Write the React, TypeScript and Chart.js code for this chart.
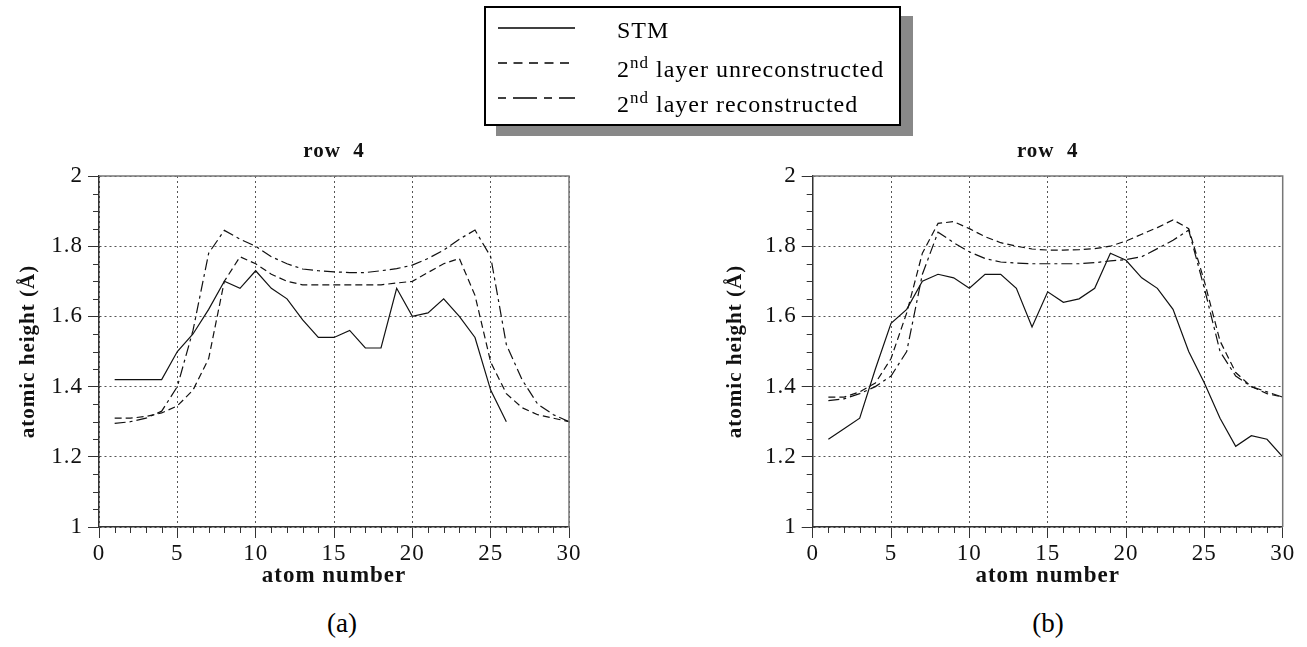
import React, { useEffect, useRef } from "react";
import { Chart, registerables } from "chart.js";

Chart.register(...registerables);

// ---------- data ----------
const atomNumbers = [1, 2, 3, 4, 5, 6, 7, 8, 9, 10, 11, 12, 13, 14, 15, 16, 17, 18, 19, 20, 21, 22, 23, 24, 25, 26, 27, 28, 29, 30];

// panel (a)
const stmA = [1.42, 1.42, 1.42, 1.42, 1.50, 1.55, 1.62, 1.70, 1.68, 1.73, 1.68, 1.65, 1.59, 1.54, 1.54, 1.56, 1.51, 1.51, 1.68, 1.60, 1.61, 1.65, 1.60, 1.54, 1.39, 1.30];
const unrecA = [1.31, 1.31, 1.315, 1.325, 1.345, 1.39, 1.48, 1.70, 1.77, 1.75, 1.72, 1.70, 1.69, 1.69, 1.69, 1.69, 1.69, 1.69, 1.695, 1.70, 1.725, 1.75, 1.765, 1.66, 1.47, 1.38, 1.34, 1.32, 1.31, 1.30];
const recA = [1.295, 1.30, 1.31, 1.33, 1.40, 1.56, 1.78, 1.845, 1.82, 1.80, 1.77, 1.75, 1.735, 1.73, 1.727, 1.725, 1.725, 1.73, 1.736, 1.746, 1.765, 1.789, 1.82, 1.846, 1.77, 1.52, 1.42, 1.35, 1.32, 1.30];

// panel (b)
const stmB = [1.25, 1.28, 1.31, 1.45, 1.58, 1.62, 1.70, 1.72, 1.71, 1.68, 1.72, 1.72, 1.68, 1.57, 1.67, 1.64, 1.65, 1.68, 1.78, 1.76, 1.71, 1.68, 1.62, 1.50, 1.41, 1.31, 1.23, 1.26, 1.25, 1.20];
const unrecB = [1.37, 1.37, 1.385, 1.41, 1.48, 1.61, 1.78, 1.865, 1.87, 1.85, 1.827, 1.81, 1.80, 1.792, 1.789, 1.789, 1.79, 1.793, 1.80, 1.815, 1.834, 1.853, 1.875, 1.85, 1.70, 1.53, 1.44, 1.40, 1.38, 1.37];
const recB = [1.36, 1.365, 1.38, 1.40, 1.43, 1.50, 1.72, 1.84, 1.81, 1.784, 1.765, 1.755, 1.752, 1.75, 1.75, 1.75, 1.75, 1.753, 1.758, 1.762, 1.77, 1.793, 1.817, 1.846, 1.68, 1.50, 1.43, 1.40, 1.385, 1.37];

const xMin = 0;
const xMax = 30;
const xMajorStep = 5;
const xMinorStep = 1;
const yMin = 1;
const yMax = 2;
const yMajorStep = 0.2;
const yMinorStep = 0.05;

const seriesNames = ["STM", "2nd layer unreconstructed", "2nd layer reconstructed"];
const legendParts = [
  { pre: "STM", sup: "", post: "" },
  { pre: "2", sup: "nd", post: " layer unreconstructed" },
  { pre: "2", sup: "nd", post: " layer reconstructed" },
];
const panelTitle = "row  4";
const xTitle = "atom number";
const yTitle = "atomic height (Å)";
const captions = ["(a)", "(b)"];

// ---------- style ----------
const SERIF = "'Liberation Serif', 'Times New Roman', serif";
const LINE_COLOR = "#111";
const dashStyles = [[], [7, 4], [11, 4, 3, 4]];
const LETTER_SPACING = "1px";

const widenText = {
  id: "widenText",
  beforeUpdate(chart: any) {
    chart.ctx.letterSpacing = LETTER_SPACING;
  },
  beforeDraw(chart: any) {
    chart.ctx.letterSpacing = LETTER_SPACING;
  },
};

const frameAndMinorTicks = {
  id: "frameAndMinorTicks",
  afterDraw(chart: any) {
    const { ctx, chartArea, scales } = chart;
    const x = scales.x;
    const y = scales.y;
    ctx.save();
    ctx.strokeStyle = "#333";
    ctx.lineWidth = 1;
    ctx.beginPath();
    const nx = Math.round((xMax - xMin) / xMinorStep);
    const perMajorX = Math.round(xMajorStep / xMinorStep);
    for (let i = 0; i <= nx; i++) {
      if (i % perMajorX === 0) continue;
      const px = Math.round(x.getPixelForValue(xMin + i * xMinorStep)) + 0.5;
      ctx.moveTo(px, chartArea.bottom);
      ctx.lineTo(px, chartArea.bottom + 6);
    }
    const ny = Math.round((yMax - yMin) / yMinorStep);
    const perMajorY = Math.round(yMajorStep / yMinorStep);
    for (let i = 0; i <= ny; i++) {
      if (i % perMajorY === 0) continue;
      const py = Math.round(y.getPixelForValue(yMin + i * yMinorStep)) + 0.5;
      ctx.moveTo(chartArea.left - 6, py);
      ctx.lineTo(chartArea.left, py);
    }
    ctx.stroke();
    ctx.strokeStyle = "#777";
    ctx.lineWidth = 1.5;
    ctx.beginPath();
    ctx.moveTo(chartArea.left, chartArea.top);
    ctx.lineTo(chartArea.right, chartArea.top);
    ctx.lineTo(chartArea.right, chartArea.bottom);
    ctx.stroke();
    ctx.restore();
  },
};

type PanelProps = {
  stm: number[];
  unrec: number[];
  rec: number[];
  left: number;
  top: number;
  width: number;
  height: number;
  yWidth: number;
  padRight: number;
  yTitlePad: number;
};

function Panel(props: PanelProps) {
  const ref = useRef<HTMLCanvasElement | null>(null);
  useEffect(() => {
    if (!ref.current) return;
    const series = [props.stm, props.unrec, props.rec];
    const datasets = series.map((vals, k) => ({
      label: seriesNames[k],
      data: vals.map((v, i) => ({ x: atomNumbers[i], y: v })),
      borderColor: LINE_COLOR,
      borderWidth: 1.2,
      borderDash: dashStyles[k],
      pointRadius: 0,
      fill: false,
      tension: 0,
    }));
    const chart = new Chart(ref.current, {
      type: "line",
      data: { datasets },
      plugins: [widenText, frameAndMinorTicks],
      options: {
        animation: false,
        responsive: false,
        devicePixelRatio: 1,
        layout: { padding: { left: 0, right: props.padRight, top: 0, bottom: 8 } },
        plugins: {
          legend: { display: false },
          tooltip: { enabled: false },
          title: {
            display: true,
            text: panelTitle,
            fullSize: false,
            color: "#111",
            font: { family: SERIF, size: 21, weight: "bold" },
            padding: { top: 9.4, bottom: 11.4 },
          },
        },
        scales: {
          x: {
            type: "linear",
            min: xMin,
            max: xMax,
            ticks: {
              stepSize: xMajorStep,
              color: "#111",
              font: { family: SERIF, size: 23 },
              padding: 2,
              maxRotation: 0,
            },
            grid: { color: "#555", lineWidth: 1, tickLength: 11, tickColor: "#333", tickWidth: 1 },
            border: { color: "#333", width: 1.5, dash: [2, 3] },
            title: {
              display: true,
              text: xTitle,
              color: "#111",
              font: { family: SERIF, size: 23, weight: "bold" },
              padding: { top: 0, bottom: 2 },
            },
            afterFit: (s: any) => {
              s.height = 65;
            },
          },
          y: {
            type: "linear",
            min: yMin,
            max: yMax,
            ticks: {
              stepSize: yMajorStep,
              color: "#111",
              font: { family: SERIF, size: 23 },
              padding: 5,
              callback: (v: any) => Number(v).toFixed(1).replace(/\.0$/, ""),
            },
            grid: { color: "#555", lineWidth: 1, tickLength: 11, tickColor: "#333", tickWidth: 1 },
            border: { color: "#333", width: 1.5, dash: [2, 3] },
            title: {
              display: true,
              text: yTitle,
              color: "#111",
              font: { family: SERIF, size: 21, weight: "bold" },
              padding: { top: props.yTitlePad, bottom: 0 },
            },
            afterFit: (s: any) => {
              s.width = props.yWidth;
            },
          },
        },
      } as any,
    });
    return () => chart.destroy();
  }, []);
  return (
    <canvas
      ref={ref}
      width={props.width}
      height={props.height}
      style={{ position: "absolute", left: props.left, top: props.top, width: props.width, height: props.height }}
    />
  );
}

const legendRowTops = [18, 57, 92];
const legendLineYs = [13, 48, 83];

export default function App() {
  return (
    <div
      style={{
        position: "absolute",
        left: 0,
        top: 0,
        width: 1307,
        height: 647,
        overflow: "hidden",
        background: "#fff",
        fontFamily: SERIF,
      }}
    >
      <Panel stm={stmA} unrec={unrecA} rec={recA} left={0} top={130} width={600} height={470} yWidth={99} padRight={31} yTitlePad={15.5} />
      <Panel stm={stmB} unrec={unrecB} rec={recB} left={700} top={130} width={607} height={470} yWidth={112.7} padRight={24.3} yTitlePad={22.5} />

      {/* legend box */}
      <div
        style={{
          position: "absolute",
          left: 484,
          top: 6,
          width: 417,
          height: 120,
          boxSizing: "border-box",
          border: "2px solid #000",
          background: "#fff",
          boxShadow: "12px 10px 0 #888",
        }}
      />
      <svg style={{ position: "absolute", left: 495, top: 15 }} width={90} height={100}>
        {legendLineYs.map((ly, k) => (
          <line
            key={k}
            x1={3}
            x2={80}
            y1={ly}
            y2={ly}
            stroke="#000"
            strokeWidth={1.6}
            strokeDasharray={k === 0 ? undefined : k === 1 ? "9 6.5" : "8 7 24 7"}
          />
        ))}
      </svg>
      {legendParts.map((p, k) => (
        <div
          key={k}
          style={{
            position: "absolute",
            left: 617,
            top: legendRowTops[k],
            fontSize: 24,
            lineHeight: "24px",
            letterSpacing: "1px",
            whiteSpace: "nowrap",
            color: "#000",
          }}
        >
          {p.pre}
          {p.sup ? <span style={{ fontSize: 17, position: "relative", top: -9 }}>{p.sup}</span> : null}
          {p.post}
        </div>
      ))}

      {captions.map((c, k) => (
        <div
          key={c}
          style={{
            position: "absolute",
            left: (k === 0 ? 342 : 1048) - 50,
            top: 608,
            width: 100,
            textAlign: "center",
            fontSize: 27,
            lineHeight: "30px",
            color: "#000",
          }}
        >
          {c}
        </div>
      ))}
    </div>
  );
}
